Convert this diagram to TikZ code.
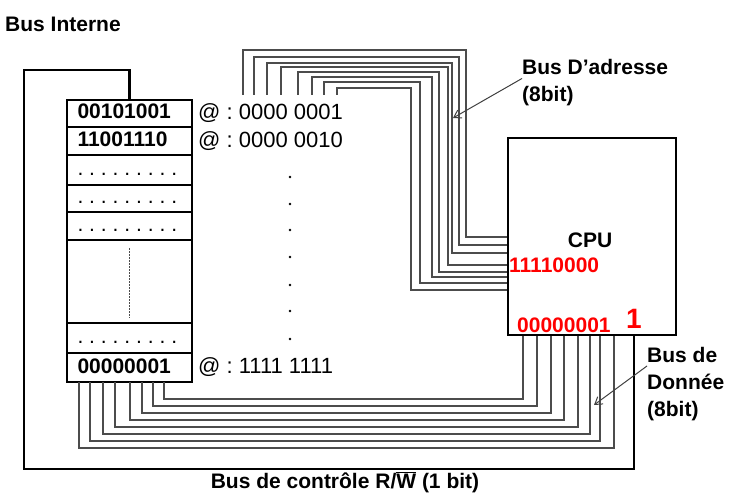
\documentclass[tikz,border=0pt]{standalone}
\usepackage{fontspec}
\setmainfont{Liberation Sans}
\usetikzlibrary{positioning,arrows.meta,calc}
\newcommand{\dotrow}{\mbox{\mdseries .\hspace{5.9pt}.\hspace{5.9pt}.\hspace{5.9pt}.\hspace{5.9pt}.\hspace{5.9pt}.\hspace{5.9pt}.\hspace{5.9pt}.\hspace{5.9pt}.}}

\begin{document}
\frenchspacing
\begin{tikzpicture}[
    x=1pt, y=-1pt,
    cell/.style={rectangle, draw, line width=2.5pt, minimum width=125pt, outer sep=0pt, inner sep=0pt, text width=104pt, align=left, text height=15pt, text depth=4pt, font=\fontsize{21}{25}\selectfont\bfseries},
    addr/.style={inner sep=0pt, font=\fontsize{22}{25}\selectfont},
    cpubox/.style={rectangle, draw, line width=2pt, minimum width=168pt, minimum height=197pt},
    rednum/.style={inner sep=0pt, text=red, font=\fontsize{21}{25}\selectfont\bfseries},
    buslabel/.style={inner sep=0pt, align=left, font=\fontsize{21}{27}\selectfont\bfseries},
    wire/.style={line width=1.3pt, draw=black!70},
    ctrl/.style={line width=2.5pt},
    pointer/.style={draw=black!75, line width=1pt, -{Straight Barb[length=7pt,width=9pt]}}
]
\useasboundingbox (0,0) rectangle (733,494);

% Memory
\node[cell, minimum height=27pt] (r1) at (129.5,113.5) {00101001};
\node[cell, minimum height=28pt, below=0pt of r1] (r2) {11001110};
\node[cell, minimum height=30pt, below=0pt of r2] (r3) {\dotrow};
\node[cell, minimum height=27pt, below=0pt of r3] (r4) {\dotrow};
\node[cell, minimum height=28pt, below=0pt of r4] (r5) {\dotrow};
\node[cell, minimum height=83pt, below=0pt of r5] (r6) {};
\node[cell, minimum height=30pt, below=0pt of r6] (r7) {\dotrow};
\node[cell, minimum height=29pt, below=0pt of r7] (r8) {00000001};
\draw[black!70, line width=0.9pt, dash pattern=on 2pt off 1pt, shorten <=8pt, shorten >=5pt] (r6.north) -- (r6.south);

% Addresses
\node[addr, right=6pt of r1] (a1) {@ : 0000 0001};
\node[addr, right=6pt of r2] (a2) {@ : 0000 0010};
\node[addr, right=6pt of r8] (a8) {@ : 1111 1111};
\foreach \y in {177,204,230,257,285,311,339}
    \fill (290,\y) circle (1.3pt);

% CPU
\node[cpubox] (cpu) at (592,236.5) {};
\node[rednum, text=black] (cpulbl) at (590,240) {CPU};
\node[rednum, anchor=west] (regaddr) at (509,265) {11110000};
\node[rednum, anchor=west] (regdata) at (517,325) {00000001};
\node[rednum, font=\fontsize{28}{30}\selectfont\bfseries] (regrw) at (634,319) {1};

% Labels
\node[buslabel, anchor=north west] (intlbl) at (5,17) {Bus Interne};
\node[buslabel, anchor=north west] (addrlbl) at (522,59) {Bus D’adresse\\(8bit)};
\node[buslabel, anchor=north west] (datalbl) at (647,347) {Bus de\\Donnée\\(8bit)};
\node[buslabel, anchor=base] (ctrllbl) at (345,488) {Bus de contrôle R/$\overline{\mbox{W}}$ (1 bit)};

% Address bus
\foreach \xl/\yt/\xr/\ye in {243/50/466/237, 254/57/459/245, 267/63/452/253, 281/67/448/265, 298/72/439/272, 312/77/432/277, 324/82/420/283, 337/88/411/290}
    \draw[wire] (\xl,95) |- (\xr,\yt) |- (cpu.west |- 0,\ye);

% Data bus
\foreach \xc/\yb/\xm in {523/399/164, 537/406/153, 551/413/142, 564/420/130, 578/427/115, 590/434/103, 600/441/90, 614/448/79}
    \draw[wire] (cpu.south -| \xc,0) |- (\xm,\yb) -- (r8.south -| \xm,0);

% Control bus
\draw[ctrl] (r1.north) |- (24,70) |- (634,469) -- (cpu.south -| 634,0);

% Arrows
\coordinate (addrtip) at (453,118);
\coordinate (datatip) at (594,405);
\draw[pointer] ([yshift=4pt]addrlbl.west) -- (addrtip);
\draw[pointer] ([yshift=18pt]datalbl.west) -- (datatip);

\end{tikzpicture}
\end{document}
